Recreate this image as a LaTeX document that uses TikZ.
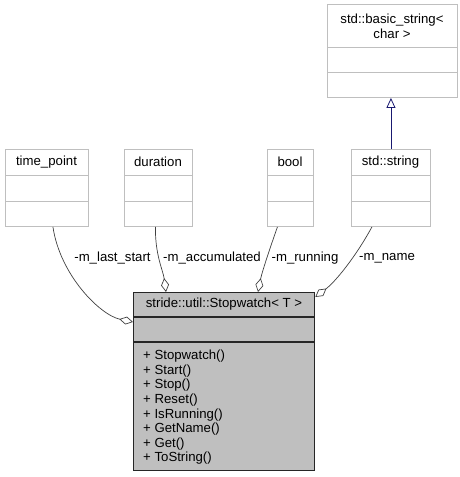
\documentclass[tikz,border=0pt]{standalone}
\usepackage{fontspec}
\setmainfont{Liberation Sans}
\usetikzlibrary{arrows.meta}
\definecolor{midnightblue}{RGB}{25,25,112}
\begin{document}
\begin{tikzpicture}[x=1pt, y=-1pt,
    every node/.style={font=\fontsize{13.2}{14.6}\selectfont},
    classbox/.style={draw=gray!50, fill=white, line width=0.9pt, inner sep=0pt, anchor=north west},
    mainbox/.style={draw=black!85, fill=gray!50, line width=1.3pt, inner sep=0pt, anchor=north west},
    sep/.style={gray!50, line width=0.9pt},
    member/.style={draw=black!75, line width=0.7pt, -{Diamond[open, fill=white, length=14pt, width=8pt]}},
    inherit/.style={draw=midnightblue, line width=0.8pt, -{Triangle[open, fill=white, length=10pt, width=9pt]}},
    lbl/.style={inner sep=1pt}]
    \useasboundingbox (0,0) rectangle (459,477);

    % Base class
    \node[classbox, minimum width=130pt, minimum height=93pt] (basicstring) at (327,4) {};
    \node[align=center] (basicstringname) at (392,26.5) {std::basic\_string<\\char >};
    \draw[sep] (327,47) -- (457,47);
    \draw[sep] (327,72) -- (457,72);

    % Member types
    \node[classbox, minimum width=83pt, minimum height=77pt] (timepoint) at (5,149) {};
    \node (timepointname) at (46.5,162) {time\_point};
    \node[classbox, minimum width=68pt, minimum height=77pt] (duration) at (124,149) {};
    \node (durationname) at (158,162) {duration};
    \node[classbox, minimum width=46pt, minimum height=77pt] (bool) at (267,149) {};
    \node (boolname) at (290,162) {bool};
    \node[classbox, minimum width=79pt, minimum height=77pt] (string) at (351,149) {};
    \node (stringname) at (390.5,162) {std::string};
    \foreach \l/\r in {5/88, 124/192, 267/313, 351/430} {
        \draw[sep] (\l,175) -- (\r,175);
        \draw[sep] (\l,201) -- (\r,201);
    }

    % Stopwatch
    \node[mainbox, minimum width=181pt, minimum height=178pt] (stopwatch) at (133,292) {};
    \node (stopwatchname) at (224,304.5) {stride::util::Stopwatch< T >};
    \draw[black!85, line width=1.3pt] (133,317) -- (314,317);
    \draw[black!85, line width=1.3pt] (133,342) -- (314,342);
    \node[align=left, anchor=north west, inner sep=0pt] (methods) at (143,350)
        {+ Stopwatch()\\+ Start()\\+ Stop()\\+ Reset()\\+ IsRunning()\\+ GetName()\\+ Get()\\+ ToString()};

    % Inheritance
    \draw[inherit] (string.north) -- (string.north |- basicstring.south);

    % Members
    \draw[member] ([xshift=6pt]timepoint.south) .. controls (60,275) and (100,315) .. ([yshift=-30pt]stopwatch.north west);
    \draw[member] ([xshift=-3pt]duration.south) .. controls (155,255) and (163,270) .. ([xshift=33pt]stopwatch.north west);
    \draw[member] ([xshift=-13pt]bool.south) .. controls (270,248) and (262,272) .. ([xshift=125pt]stopwatch.north west);
    \draw[member] ([xshift=-19pt]string.south) .. controls (355,258) and (335,282) .. ([yshift=-5pt]stopwatch.north east);

    % Member names
    \node[lbl] (laststart) at (112.5,258) {-m\_last\_start};
    \node[lbl] (accumulated) at (212,258) {-m\_accumulated};
    \node[lbl] (running) at (305,258) {-m\_running};
    \node[lbl] (name) at (387,258) {-m\_name};
\end{tikzpicture}
\end{document}
